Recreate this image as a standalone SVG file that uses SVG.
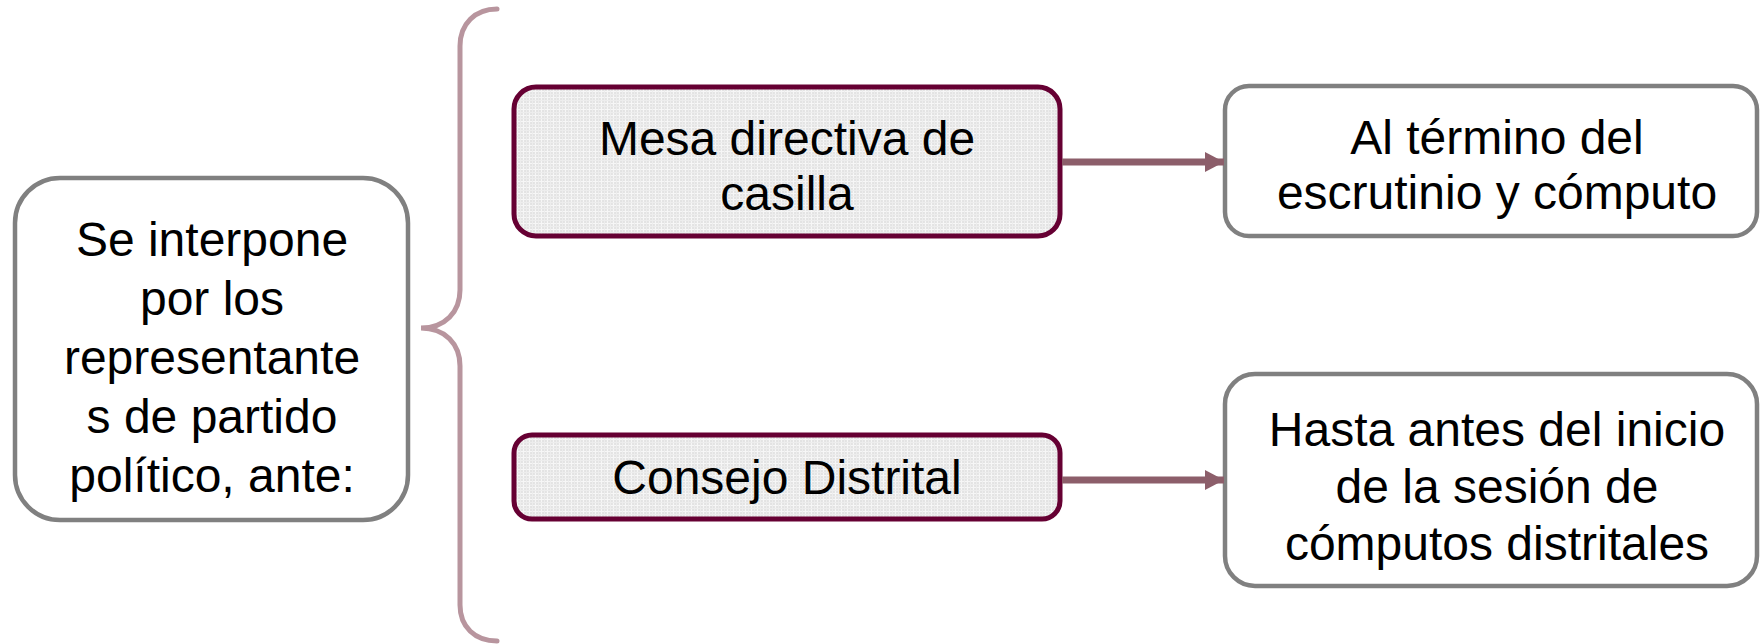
<svg xmlns="http://www.w3.org/2000/svg" width="1760" height="644" viewBox="0 0 1760 644">
  <defs>
    <pattern id="grid" width="6" height="6" patternUnits="userSpaceOnUse">
      <rect width="6" height="6" fill="#E3E3E3"/>
      <path d="M0,1.5H6M1.5,0V6" stroke="#F6F6F6" stroke-width="1.2"/>
      <path d="M0,4.5H6M4.5,0V6" stroke="#EDEDED" stroke-width="1"/>
    </pattern>
    <marker id="arrow" markerUnits="userSpaceOnUse" markerWidth="20" markerHeight="22" refX="19" refY="11" orient="auto">
      <path d="M0,1 L19,11 L0,21 Z" fill="#8C5E6A"/>
    </marker>
    <style>
      .txt { font-family: "Liberation Sans", Arial, sans-serif; font-size: 48px; fill: #000; text-anchor: middle; }
      .grey { fill: #FFFFFF; stroke: #808080; stroke-width: 4.5; }
      .mid { fill: url(#grid); stroke: #660033; stroke-width: 5; }
      .conn { stroke: #8C5E6A; stroke-width: 7; fill: none; }
      .brace { stroke: #B8959E; stroke-width: 5; fill: none; stroke-linecap: round; }
    </style>
  </defs>

  <g id="brace">
    <path class="brace" d="M497,9 C475,9 460,24 460,46 L460,290 C460,312 445,328 421,328 C445,328 460,344 460,366 L460,605 C460,627 475,641 497,641"/>
  </g>

  <g id="node-left">
    <rect class="grey" x="15" y="178" width="393" height="342" rx="45" ry="45"/>
    <text class="txt" x="212" y="256">Se interpone</text>
    <text class="txt" x="212" y="315">por los</text>
    <text class="txt" x="212" y="374">representante</text>
    <text class="txt" x="212" y="433">s de partido</text>
    <text class="txt" x="212" y="492">político, ante:</text>
  </g>

  <g id="node-mesa">
    <rect class="mid" x="514" y="87" width="546" height="149" rx="22" ry="22"/>
    <text class="txt" x="787" y="155">Mesa directiva de</text>
    <text class="txt" x="787" y="210">casilla</text>
  </g>

  <g id="node-consejo">
    <rect class="mid" x="514" y="435" width="546" height="84" rx="18" ry="18"/>
    <text class="txt" x="787" y="494">Consejo Distrital</text>
  </g>

  <g id="node-termino">
    <rect class="grey" x="1225" y="86" width="532" height="150" rx="24" ry="24"/>
    <text class="txt" x="1497" y="154">Al término del</text>
    <text class="txt" x="1497" y="209">escrutinio y cómputo</text>
  </g>

  <g id="node-hasta">
    <rect class="grey" x="1225" y="374" width="532" height="212" rx="30" ry="30"/>
    <text class="txt" x="1497" y="446">Hasta antes del inicio</text>
    <text class="txt" x="1497" y="503">de la sesión de</text>
    <text class="txt" x="1497" y="560">cómputos distritales</text>
  </g>

  <g id="connectors">
    <line class="conn" x1="1062" y1="162" x2="1224" y2="162" marker-end="url(#arrow)"/>
    <line class="conn" x1="1062" y1="480" x2="1224" y2="480" marker-end="url(#arrow)"/>
  </g>
</svg>
